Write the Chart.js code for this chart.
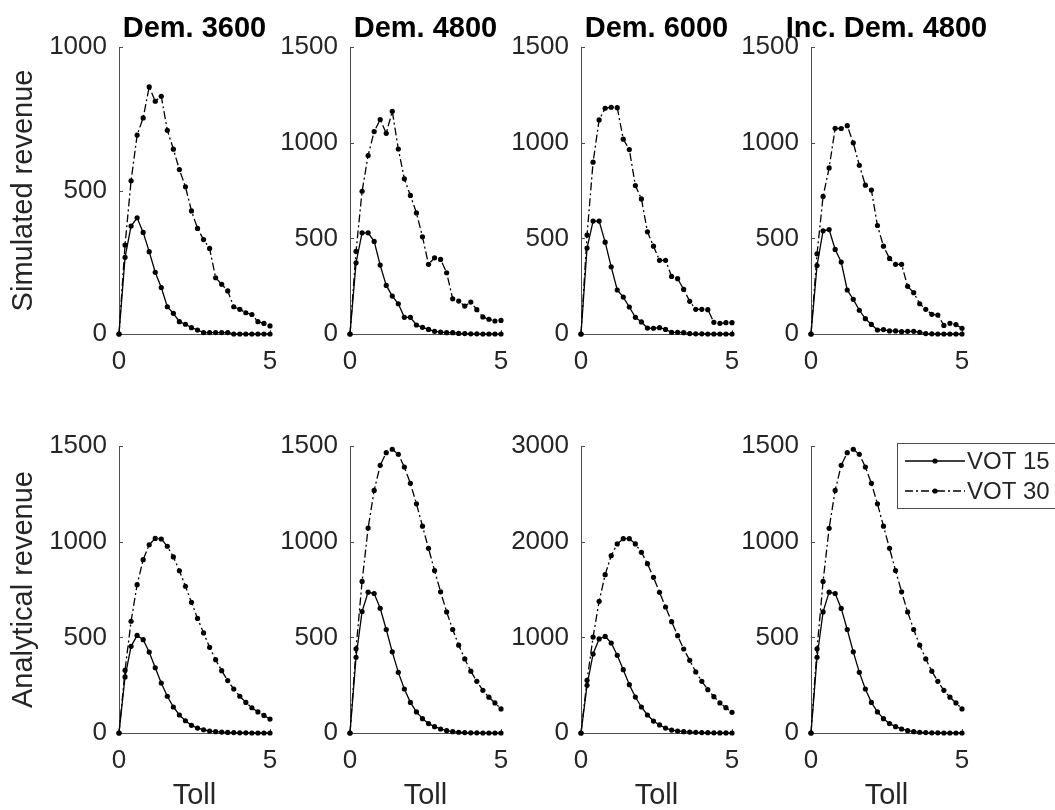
<!DOCTYPE html>
<html>
<head>
<meta charset="utf-8">
<script src="https://cdn.jsdelivr.net/npm/chart.js@4.4.0/dist/chart.umd.min.js"></script>
<style>
  html, body { margin: 0; padding: 0; background: #fff; }
  #fig { position: relative; width: 1055px; height: 810px; overflow: hidden; }
  #fig canvas { position: absolute; }
</style>
</head>
<body>
<div id="fig"></div>
<script>
// toll values (x axis), same for every panel
const toll = [0, 0.2, 0.4, 0.6, 0.8, 1.0, 1.2, 1.4, 1.6, 1.8, 2.0, 2.2, 2.4, 2.6, 2.8, 3.0,
              3.2, 3.4, 3.6, 3.8, 4.0, 4.2, 4.4, 4.6, 4.8, 5.0];

// simulated revenue
const sim3600_15 = [0, 267, 376, 405, 354, 287, 215, 162, 95, 72, 43, 34, 22, 14, 5, 5, 5, 5, 5, 0, 0, 0, 0, 0, 0, 0];
const sim3600_30 = [0, 310, 534, 693, 753, 861, 811, 828, 710, 644, 573, 513, 429, 368, 329, 298, 196, 173, 150, 95, 86, 74, 68, 43, 37, 28];
const sim4800_15 = [0, 372, 529, 529, 484, 360, 254, 198, 158, 87, 87, 47, 35, 24, 14, 10, 7, 7, 3, 2, 1, 1, 0, 0, 0, 0];
const sim4800_30 = [0, 432, 746, 933, 1058, 1121, 1049, 1164, 967, 811, 724, 633, 508, 364, 398, 390, 320, 184, 172, 146, 167, 127, 89, 77, 68, 71];
const sim6000_15 = [0, 449, 590, 590, 480, 351, 230, 193, 141, 87, 63, 31, 30, 33, 24, 9, 9, 7, 2, 1, 1, 0, 0, 0, 0, 0];
const sim6000_30 = [0, 517, 898, 1119, 1180, 1185, 1183, 1018, 964, 776, 706, 534, 459, 385, 385, 301, 289, 233, 171, 129, 129, 127, 61, 56, 59, 59];
const simInc4800_15 = [0, 358, 539, 546, 442, 376, 230, 181, 124, 80, 50, 21, 23, 16, 16, 12, 14, 14, 9, 2, 1, 0, 0, 0, 0, 0];
const simInc4800_30 = [0, 419, 719, 868, 1075, 1074, 1089, 999, 882, 778, 752, 567, 459, 395, 364, 364, 249, 216, 158, 129, 103, 99, 45, 56, 49, 30];

// analytical revenue
const ana3600_15 = [0, 293, 453, 510, 488, 423, 341, 261, 192, 136, 94, 64, 40, 26, 17, 10, 7, 5, 3, 2, 1, 1, 0, 0, 0, 0];
const ana3600_30 = [0, 328, 584, 775, 906, 984, 1017, 1014, 976, 920, 848, 767, 683, 599, 523, 448, 383, 326, 274, 230, 192, 160, 132, 110, 92, 73];
const ana4800_15 = [0, 396, 635, 736, 729, 652, 541, 424, 317, 230, 160, 110, 75, 49, 33, 21, 12, 7, 4, 2, 1, 1, 0, 0, 0, 0];
const ana4800_30 = [0, 440, 792, 1071, 1268, 1399, 1465, 1483, 1457, 1390, 1305, 1198, 1081, 965, 849, 738, 633, 541, 459, 387, 323, 270, 223, 187, 157, 126];
const ana6000_15 = [0, 498, 826, 983, 1010, 941, 812, 662, 505, 376, 272, 188, 125, 84, 52, 31, 21, 14, 10, 7, 4, 3, 2, 1, 1, 0];
const ana6000_30 = [0, 551, 1003, 1376, 1655, 1854, 1976, 2031, 2031, 1976, 1889, 1770, 1627, 1470, 1317, 1164, 1017, 878, 760, 638, 540, 453, 380, 314, 265, 216];
const anaInc4800_15 = [0, 396, 633, 736, 729, 651, 541, 424, 317, 230, 160, 110, 75, 49, 33, 21, 12, 7, 4, 2, 1, 1, 0, 0, 0, 0];
const anaInc4800_30 = [0, 440, 792, 1070, 1268, 1399, 1465, 1483, 1457, 1390, 1305, 1198, 1081, 965, 849, 738, 633, 541, 459, 387, 323, 270, 223, 187, 157, 126];

const panelTitles = ['Dem. 3600', 'Dem. 4800', 'Dem. 6000', 'Inc. Dem. 4800'];
const rowLabels = ['Simulated revenue', 'Analytical revenue'];
const seriesNames = ['VOT 15', 'VOT 30'];
const xTitle = 'Toll';
const yMax = [[1000, 1500, 1500, 1500], [1500, 1500, 3000, 1500]];
const yStep = [[500, 500, 500, 500], [500, 500, 1000, 500]];

const rows = [
  [[sim3600_15, sim3600_30], [sim4800_15, sim4800_30], [sim6000_15, sim6000_30], [simInc4800_15, simInc4800_30]],
  [[ana3600_15, ana3600_30], [ana4800_15, ana4800_30], [ana6000_15, ana6000_30], [anaInc4800_15, anaInc4800_30]]
];

// layout of the 2x4 grid (page pixels)
const plotLeft = [119, 350, 581, 811];
const plotTop = [47, 446];
const PW = 151, PH = 287;
const YW = 119, TH = 47;
const XH = [60, 77];
const PAD_R = 119;

const AXIS = '#4d4d4d';
const TEXT = '#262626';
const FONT = "'Liberation Sans', Arial, Helvetica, sans-serif";
Chart.defaults.font.family = FONT;

// MATLAB style ticks pointing into the plot
const innerTicks = {
  id: 'innerTicks',
  beforeDatasetsDraw(chart) {
    const { ctx, chartArea: a, scales: { x, y } } = chart;
    ctx.save();
    ctx.strokeStyle = AXIS;
    ctx.lineWidth = 1;
    ctx.beginPath();
    y.ticks.forEach(t => {
      const py = Math.round(y.getPixelForValue(t.value)) + 0.5;
      ctx.moveTo(a.left, py); ctx.lineTo(a.left + 4, py);
    });
    x.ticks.forEach(t => {
      const px = Math.round(x.getPixelForValue(t.value)) + 0.5;
      ctx.moveTo(px, a.bottom); ctx.lineTo(px, a.bottom - 4);
    });
    ctx.stroke();
    ctx.restore();
  }
};

// bold panel title centred over the plot, allowed to overhang it
const panelTitle = {
  id: 'panelTitle',
  afterDraw(chart, args, opts) {
    if (!opts.text) return;
    const { ctx, chartArea: a } = chart;
    ctx.save();
    ctx.fillStyle = '#000';
    ctx.font = 'bold 29px ' + FONT;
    ctx.textAlign = 'center';
    ctx.textBaseline = 'alphabetic';
    ctx.fillText(opts.text, (a.left + a.right) / 2, a.top - 10);
    ctx.restore();
  }
};

// boxed legend, drawn on the last panel
const boxLegend = {
  id: 'boxLegend',
  afterDraw(chart) {
    const { ctx, chartArea: a } = chart;
    const bx = a.left + 86, by = a.top - 3;
    ctx.save();
    ctx.fillStyle = '#fff';
    ctx.fillRect(bx, by, 220, 65);
    ctx.strokeStyle = AXIS;
    ctx.lineWidth = 1;
    ctx.strokeRect(bx + 0.5, by + 0.5, 220, 65);
    chart.data.datasets.forEach((ds, i) => {
      const ly = by + 18 + i * 30;
      ctx.strokeStyle = '#000';
      ctx.lineWidth = ds.borderWidth;
      ctx.setLineDash(ds.borderDash || []);
      ctx.beginPath(); ctx.moveTo(bx + 8, ly); ctx.lineTo(bx + 68, ly); ctx.stroke();
      ctx.setLineDash([]);
      ctx.fillStyle = '#000';
      ctx.beginPath(); ctx.arc(bx + 38, ly, ds.pointRadius, 0, Math.PI * 2); ctx.fill();
      ctx.fillStyle = TEXT;
      ctx.font = '24px ' + FONT;
      ctx.textBaseline = 'middle';
      ctx.fillText(ds.label, bx + 70, ly + 1);
    });
    ctx.restore();
  }
};

const fig = document.getElementById('fig');

rows.forEach((panels, r) => {
  panels.forEach((series, c) => {
    const canvas = document.createElement('canvas');
    canvas.width = YW + PW + PAD_R;
    canvas.height = TH + PH + XH[r];
    canvas.style.left = (plotLeft[c] - YW) + 'px';
    canvas.style.top = (plotTop[r] - TH) + 'px';
    fig.appendChild(canvas);

    new Chart(canvas.getContext('2d'), {
      type: 'line',
      data: {
        labels: toll,
        datasets: series.map((vals, i) => ({
          label: seriesNames[i],
          data: vals.map((v, k) => ({ x: toll[k], y: v })),
          borderColor: '#000',
          borderWidth: 1.3,
          borderDash: i === 0 ? [] : [8, 3, 2, 3],
          pointRadius: 2.6,
          pointBackgroundColor: '#000',
          pointBorderWidth: 0,
          tension: 0,
          clip: false
        }))
      },
      options: {
        responsive: false,
        animation: false,
        events: [],
        layout: { padding: { left: 0, right: PAD_R, top: TH, bottom: 0 } },
        plugins: {
          legend: { display: false },
          tooltip: { enabled: false },
          title: { display: false },
          panelTitle: { text: r === 0 ? panelTitles[c] : '' }
        },
        scales: {
          x: {
            type: 'linear',
            min: 0, max: 5,
            grid: { display: false, drawTicks: false },
            border: { display: true, color: AXIS, width: 1 },
            ticks: { stepSize: 5, color: TEXT, font: { size: 26 }, padding: 12, callback: v => String(v) },
            title: { display: r === 1, text: xTitle, color: TEXT, font: { size: 29, lineHeight: 1 }, padding: { top: 0, bottom: 0 } },
            afterFit: s => { s.height = XH[r]; }
          },
          y: {
            min: 0, max: yMax[r][c],
            grid: { display: false, drawTicks: false },
            border: { display: true, color: AXIS, width: 1 },
            ticks: { stepSize: yStep[r][c], color: TEXT, font: { size: 26 }, padding: 12, callback: v => String(v) },
            title: { display: c === 0, text: rowLabels[r], color: TEXT, font: { size: 29, lineHeight: 1 }, padding: { top: 9, bottom: 0 } },
            afterFit: s => { s.width = YW; }
          }
        }
      },
      plugins: (r === 1 && c === 3) ? [innerTicks, panelTitle, boxLegend] : [innerTicks, panelTitle]
    });
  });
});
</script>
</body>
</html>
